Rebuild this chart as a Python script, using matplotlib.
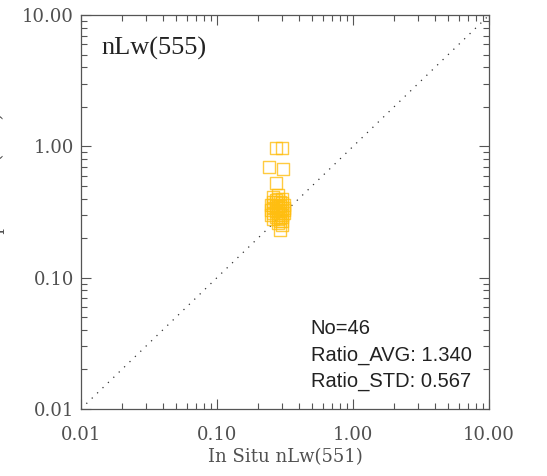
import numpy as np
import matplotlib.pyplot as plt
from matplotlib.ticker import FixedLocator, FormatStrFormatter, LogLocator, NullFormatter

#%% Data

insitu = [0.27, 0.30, 0.24, 0.305, 0.27, 0.29, 0.30, 0.28, 0.26, 0.30,
          0.25, 0.26, 0.27, 0.28, 0.29, 0.30, 0.31, 0.25, 0.26, 0.27,
          0.28, 0.29, 0.30, 0.31, 0.25, 0.26, 0.27, 0.28, 0.29, 0.30,
          0.31, 0.26, 0.27, 0.28, 0.29, 0.30, 0.27, 0.28, 0.29, 0.26,
          0.28, 0.30, 0.27, 0.29, 0.31, 0.28]
satellite = [0.97, 0.97, 0.70, 0.67, 0.53, 0.23, 0.25, 0.43, 0.41, 0.40,
             0.36, 0.38, 0.39, 0.40, 0.38, 0.37, 0.36, 0.33, 0.34, 0.35,
             0.36, 0.35, 0.34, 0.33, 0.30, 0.31, 0.32, 0.31, 0.32, 0.30,
             0.31, 0.28, 0.29, 0.28, 0.29, 0.27, 0.34, 0.33, 0.31, 0.36,
             0.30, 0.29, 0.38, 0.27, 0.34, 0.26]

ticks = [0.01, 0.1, 1.0, 10.0]
band_title = 'nLw(555)'
xlabel = 'In Situ nLw(551)'
ylabel = 'MODIS Aqua nLw(555)'
stats = ['No=46', 'Ratio_AVG: 1.340', 'Ratio_STD: 0.567']

#%% Figure

fig = plt.figure(figsize=(5.47, 4.76), dpi=100)
ax = fig.add_axes([0.148, 0.141, 0.746, 0.827])

ax.set_xscale('log')
ax.set_yscale('log')
ax.set_xlim(ticks[0], ticks[-1])
ax.set_ylim(ticks[0], ticks[-1])

# 1:1 line
ax.plot(ticks, ticks, color='#333333', linestyle=(0, (1, 5)), linewidth=0.9)

ax.scatter(insitu, satellite, marker='s', s=75, facecolors='none',
           edgecolors='#FFBE10', linewidths=1.0, alpha=0.8, zorder=3)

serif = ['DejaVu Serif']
for a in (ax.xaxis, ax.yaxis):
    a.set_major_locator(FixedLocator(ticks))
    a.set_major_formatter(FormatStrFormatter('%.2f'))
    a.set_minor_locator(LogLocator(base=10, subs=np.arange(2, 10)))
    a.set_minor_formatter(NullFormatter())

ax.tick_params(which='both', direction='in', top=True, right=True,
               color='#555555', width=0.8)
ax.tick_params(which='major', length=7, labelsize=13, labelcolor='#505050')
ax.tick_params(axis='x', which='major', pad=12)
ax.tick_params(axis='y', which='major', pad=5)
ax.tick_params(which='minor', length=4)
for lab in ax.get_xticklabels() + ax.get_yticklabels():
    lab.set_family(serif)
    lab.set_fontweight('light')
for s in ax.spines.values():
    s.set_color('#555555')
    s.set_linewidth(0.9)

ax.set_xlabel(xlabel, family=serif, fontsize=13, color='#505050', labelpad=3)
fig.text(-0.007, 0.54, ylabel, family=serif, fontsize=13, color='#505050',
         rotation=90, ha='center', va='center')

ax.text(0.05, 0.945, band_title, transform=ax.transAxes,
        family=['Liberation Serif', 'DejaVu Serif'],
        fontsize=19, color='#222222', va='top')

for i, s in enumerate(stats):
    ax.text(0.563, 0.203 - i * 0.066, s, transform=ax.transAxes,
            family=['Liberation Sans', 'DejaVu Sans'], fontsize=14.5,
            color='#222222', va='center')

fig.savefig('out.png', dpi=100)
